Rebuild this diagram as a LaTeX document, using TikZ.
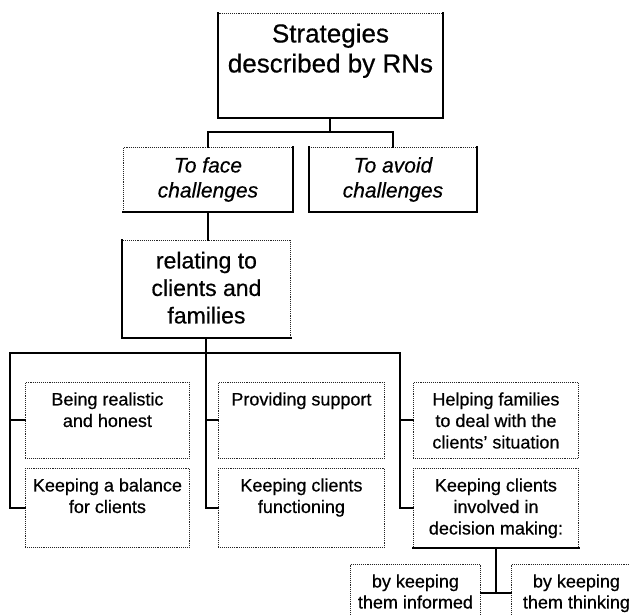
\documentclass[tikz,border=0pt]{standalone}
\usepackage{fontspec}
\setmainfont{Liberation Sans}[UprightFeatures={FakeBold=0.5},ItalicFeatures={FakeBold=0.5}]
\usetikzlibrary{calc}

% Box body: width, height, first baseline below top, font size, line skip, text
\newcommand{\cellbody}[6]{%
  \parbox[c][#2][t]{#1}{\centering\fontsize{#4}{#5}\selectfont\rule{0pt}{#3}#6\par}}

\tikzset{
  cell/.style={draw=black!85, densely dotted, line width=0.9pt, inner sep=0pt,
               anchor=north west, fill=white},
  heavyedge/.style={draw=black, solid, line width=2.8pt, line cap=rect, line join=miter},
  conn/.style={draw=black, line width=2pt, line cap=rect}
}

\begin{document}
\begin{tikzpicture}[x=1pt,y=1pt]
  \clip (0,0) rectangle (629,-614);
  \fill[white] (0,0) rectangle (629,-614);

  % level 0
  \node[cell] (top) at (218,-13)
    {\cellbody{224pt}{104pt}{29pt}{26}{30}{Strategies\\described by RNs}};

  % level 1
  \node[cell] (face) at (123,-147)
    {\cellbody{169pt}{64pt}{25pt}{21}{25}{\itshape To face\\challenges}};
  \node[cell] (avoid) at (309,-147)
    {\cellbody{167pt}{64pt}{25pt}{21}{25}{\itshape To avoid\\challenges}};

  % level 2
  \node[cell] (rel) at (122,-240)
    {\cellbody{168pt}{97pt}{28pt}{23}{27.5}{relating to\\clients and\\families}};

  % level 3
  \node[cell] (c1a) at (25,-382)
    {\cellbody{164pt}{76pt}{23pt}{18}{21.5}{Being realistic\\and honest}};
  \node[cell] (c1b) at (25,-468)
    {\cellbody{164pt}{79pt}{23pt}{18}{21.5}{Keeping a balance\\for clients}};
  \node[cell] (c2a) at (218,-382)
    {\cellbody{166pt}{76pt}{23pt}{18}{21.5}{Providing support}};
  \node[cell] (c2b) at (218,-468)
    {\cellbody{166pt}{79pt}{23pt}{18}{21.5}{Keeping clients\\functioning}};
  \node[cell] (c3a) at (413,-382)
    {\cellbody{165pt}{76pt}{23pt}{18}{21.5}{Helping families\\to deal with the\\clients{\char"27} situation}};
  \node[cell] (c3b) at (413,-468)
    {\cellbody{165pt}{79pt}{23pt}{18}{21.5}{Keeping clients\\involved in\\decision making:}};

  % level 4
  \node[cell] (bk1) at (350,-564)
    {\cellbody{130pt}{80pt}{23pt}{18}{21}{by keeping\\them informed}};
  \node[cell] (bk2) at (511,-564)
    {\cellbody{130pt}{80pt}{23pt}{18}{21}{by keeping\\them thinking}};

  % heavy box edges
  \draw[heavyedge] (top.north west) -- (top.south west) -- (top.south east) -- (top.north east);
  \draw[heavyedge] (face.south west) -- (face.south east) -- (face.north east);
  \draw[heavyedge] (avoid.north west) -- (avoid.south west) -- (avoid.south east) -- (avoid.north east);
  \draw[heavyedge] (rel.north west) -- (rel.south west) -- (rel.south east);
  \draw[heavyedge] (c3b.south west) -- (c3b.south east);

  % connectors
  \coordinate (split) at (330,-132);
  \draw[conn] (top.south) -- (top.south |- split);
  \draw[conn] (face.north) |- (split) -| (avoid.north);
  \draw[conn] (face.south) -- (face.south |- rel.north);

  \coordinate (busL) at (10,-353);
  \coordinate (busR) at (400,-353);
  \coordinate (busM) at (rel.south |- busL);
  \draw[conn] (rel.south) -- (busM);
  \draw[conn] (c1b.west) -| (busL) -- (busR) |- (c3b.west);
  \draw[conn] (c1a.west) -- (c1a.west -| busL);
  \draw[conn] (busM) |- (c2b.west);
  \draw[conn] (c2a.west) -- (c2a.west -| busM);
  \draw[conn] (c3a.west) -- (c3a.west -| busR);

  \coordinate (tee) at ($(c3b.south)+(0,-45)$);
  \draw[conn] (c3b.south) -- (tee);
  \draw[conn] (tee -| bk1.east) -- (tee -| bk2.west);
\end{tikzpicture}
\end{document}
